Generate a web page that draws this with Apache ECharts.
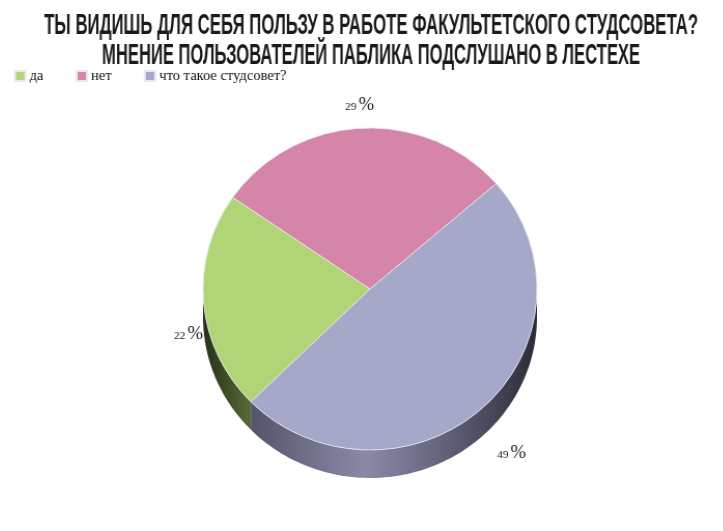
<!DOCTYPE html>
<html><head><meta charset="utf-8">
<style>html,body{margin:0;padding:0;background:#fff;overflow:hidden;width:723px;height:531px}
#c{width:723px;height:531px;transform-origin:370px 0;transform:scaleX(1.037)}</style>
<script src="https://cdn.jsdelivr.net/npm/echarts@6/dist/echarts.min.js"></script></head>
<body><div id="c"></div>
<script>
const titleLines = ['ТЫ ВИДИШЬ ДЛЯ СЕБЯ ПОЛЬЗУ В РАБОТЕ ФАКУЛЬТЕТСКОГО СТУДСОВЕТА?','МНЕНИЕ ПОЛЬЗОВАТЕЛЕЙ ПАБЛИКА ПОДСЛУШАНО В ЛЕСТЕХЕ'];
const titleWidths = [654,538];
const categories = ['да','нет','что такое студсовет?'];
const values = [22,29,49];
const colors = ['#B1D476','#D585A8','#A6A8CA'];
const wallStops = [
  [[0,'#28301a'],[0.5,'#3f4d27'],[1,'#5a6c38']],
  [[0,'#888'],[1,'#888']],
  [[0,'#54556a'],[0.4,'#8a8aa8'],[0.62,'#6b6b85'],[0.82,'#4a4b5e'],[1,'#2b2c38']]
];
const labelPos = [[174,325],[345,96],[497,444]];
const stretch = 1.037, cx = 370, cy = 289, R = 161, depth = 28, startCW = 225.5;
const titleFont = 'bold 30px "Liberation Sans"';
const px = x => cx + (x - cx) / stretch;
const total = values.reduce((a,b)=>a+b,0);
const spans = []; let acc = startCW;
values.forEach(v => { const e = acc + v/total*360; spans.push(acc>=360?[acc-360,e-360]:[acc,e]); acc = e; });
const pt = (deg, dy) => { const t = deg*Math.PI/180; return [cx + R*Math.sin(t), cy - R*Math.cos(t) + dy]; };
function wall(params){
  const [s,e] = spans[params.dataIndex];
  const a = Math.max(s,90), b = Math.min(e,270);
  if (a >= b) return {type:'group',children:[]};
  const top = [], bot = [];
  const n = Math.ceil((b-a)/1.5);
  for (let i=0;i<=n;i++){ const d = a+(b-a)*i/n; top.push(pt(d,0)); bot.push(pt(d,depth)); }
  const xs = top.map(p=>p[0]), x0 = Math.min(...xs), x1 = Math.max(...xs);
  return {type:'polygon', shape:{points: top.concat(bot.reverse())},
    style:{fill:{type:'linear',x:x0,y:0,x2:x1,y2:0,global:true,
      colorStops:wallStops[params.dataIndex].map(s=>({offset:s[0],color:s[1]}))}}};
}
const meas = document.createElement('canvas').getContext('2d');
meas.font = titleFont;
const fit = i => titleWidths[i] / stretch / meas.measureText(titleLines[i]).width;
const chart = echarts.init(document.getElementById('c'));
chart.setOption({
  animation:false, backgroundColor:'#fff', color:colors,
  legend:{data:categories, left:px(14), top:69, padding:0, icon:'rect', itemWidth:10, itemHeight:10, itemGap:31, selectedMode:false,
    textStyle:{fontFamily:'Liberation Serif',fontSize:14,color:'#111',padding:[0,0,0,-1]}},
  graphic:titleLines.map((t,i)=>({type:'text', x:371, y:11+i*30, scaleX:fit(i), z:10,
    style:{text:t, font:titleFont, fill:'#1a1a1a', textAlign:'center', textVerticalAlign:'top'}})),
  series:[
    {type:'custom', name:'wall', coordinateSystem:'none', silent:true, z:1, renderItem:wall, data:values},
    {type:'pie', z:2, center:[cx,cy], radius:[0,R], startAngle:90-startCW, clockwise:true, silent:true,
      itemStyle:{borderColor:'#e8e8f0',borderWidth:0.8},
      data:categories.map((n,i)=>({name:n,value:values[i]})),
      labelLine:{show:false},
      label:{show:true,position:'outside',formatter:p=>`{n|${p.value}}{p|%}`,
        rich:{n:{fontFamily:'Liberation Serif',fontSize:11,color:'#222',padding:[4,2,0,0]},p:{fontFamily:'Liberation Serif',fontSize:18,color:'#222'}}},
      labelLayout:p=>{const q=labelPos[p.dataIndex];return {x:px(q[0]),y:q[1],align:'left',verticalAlign:'top'};}
    }
  ]
});
</script></body></html>
